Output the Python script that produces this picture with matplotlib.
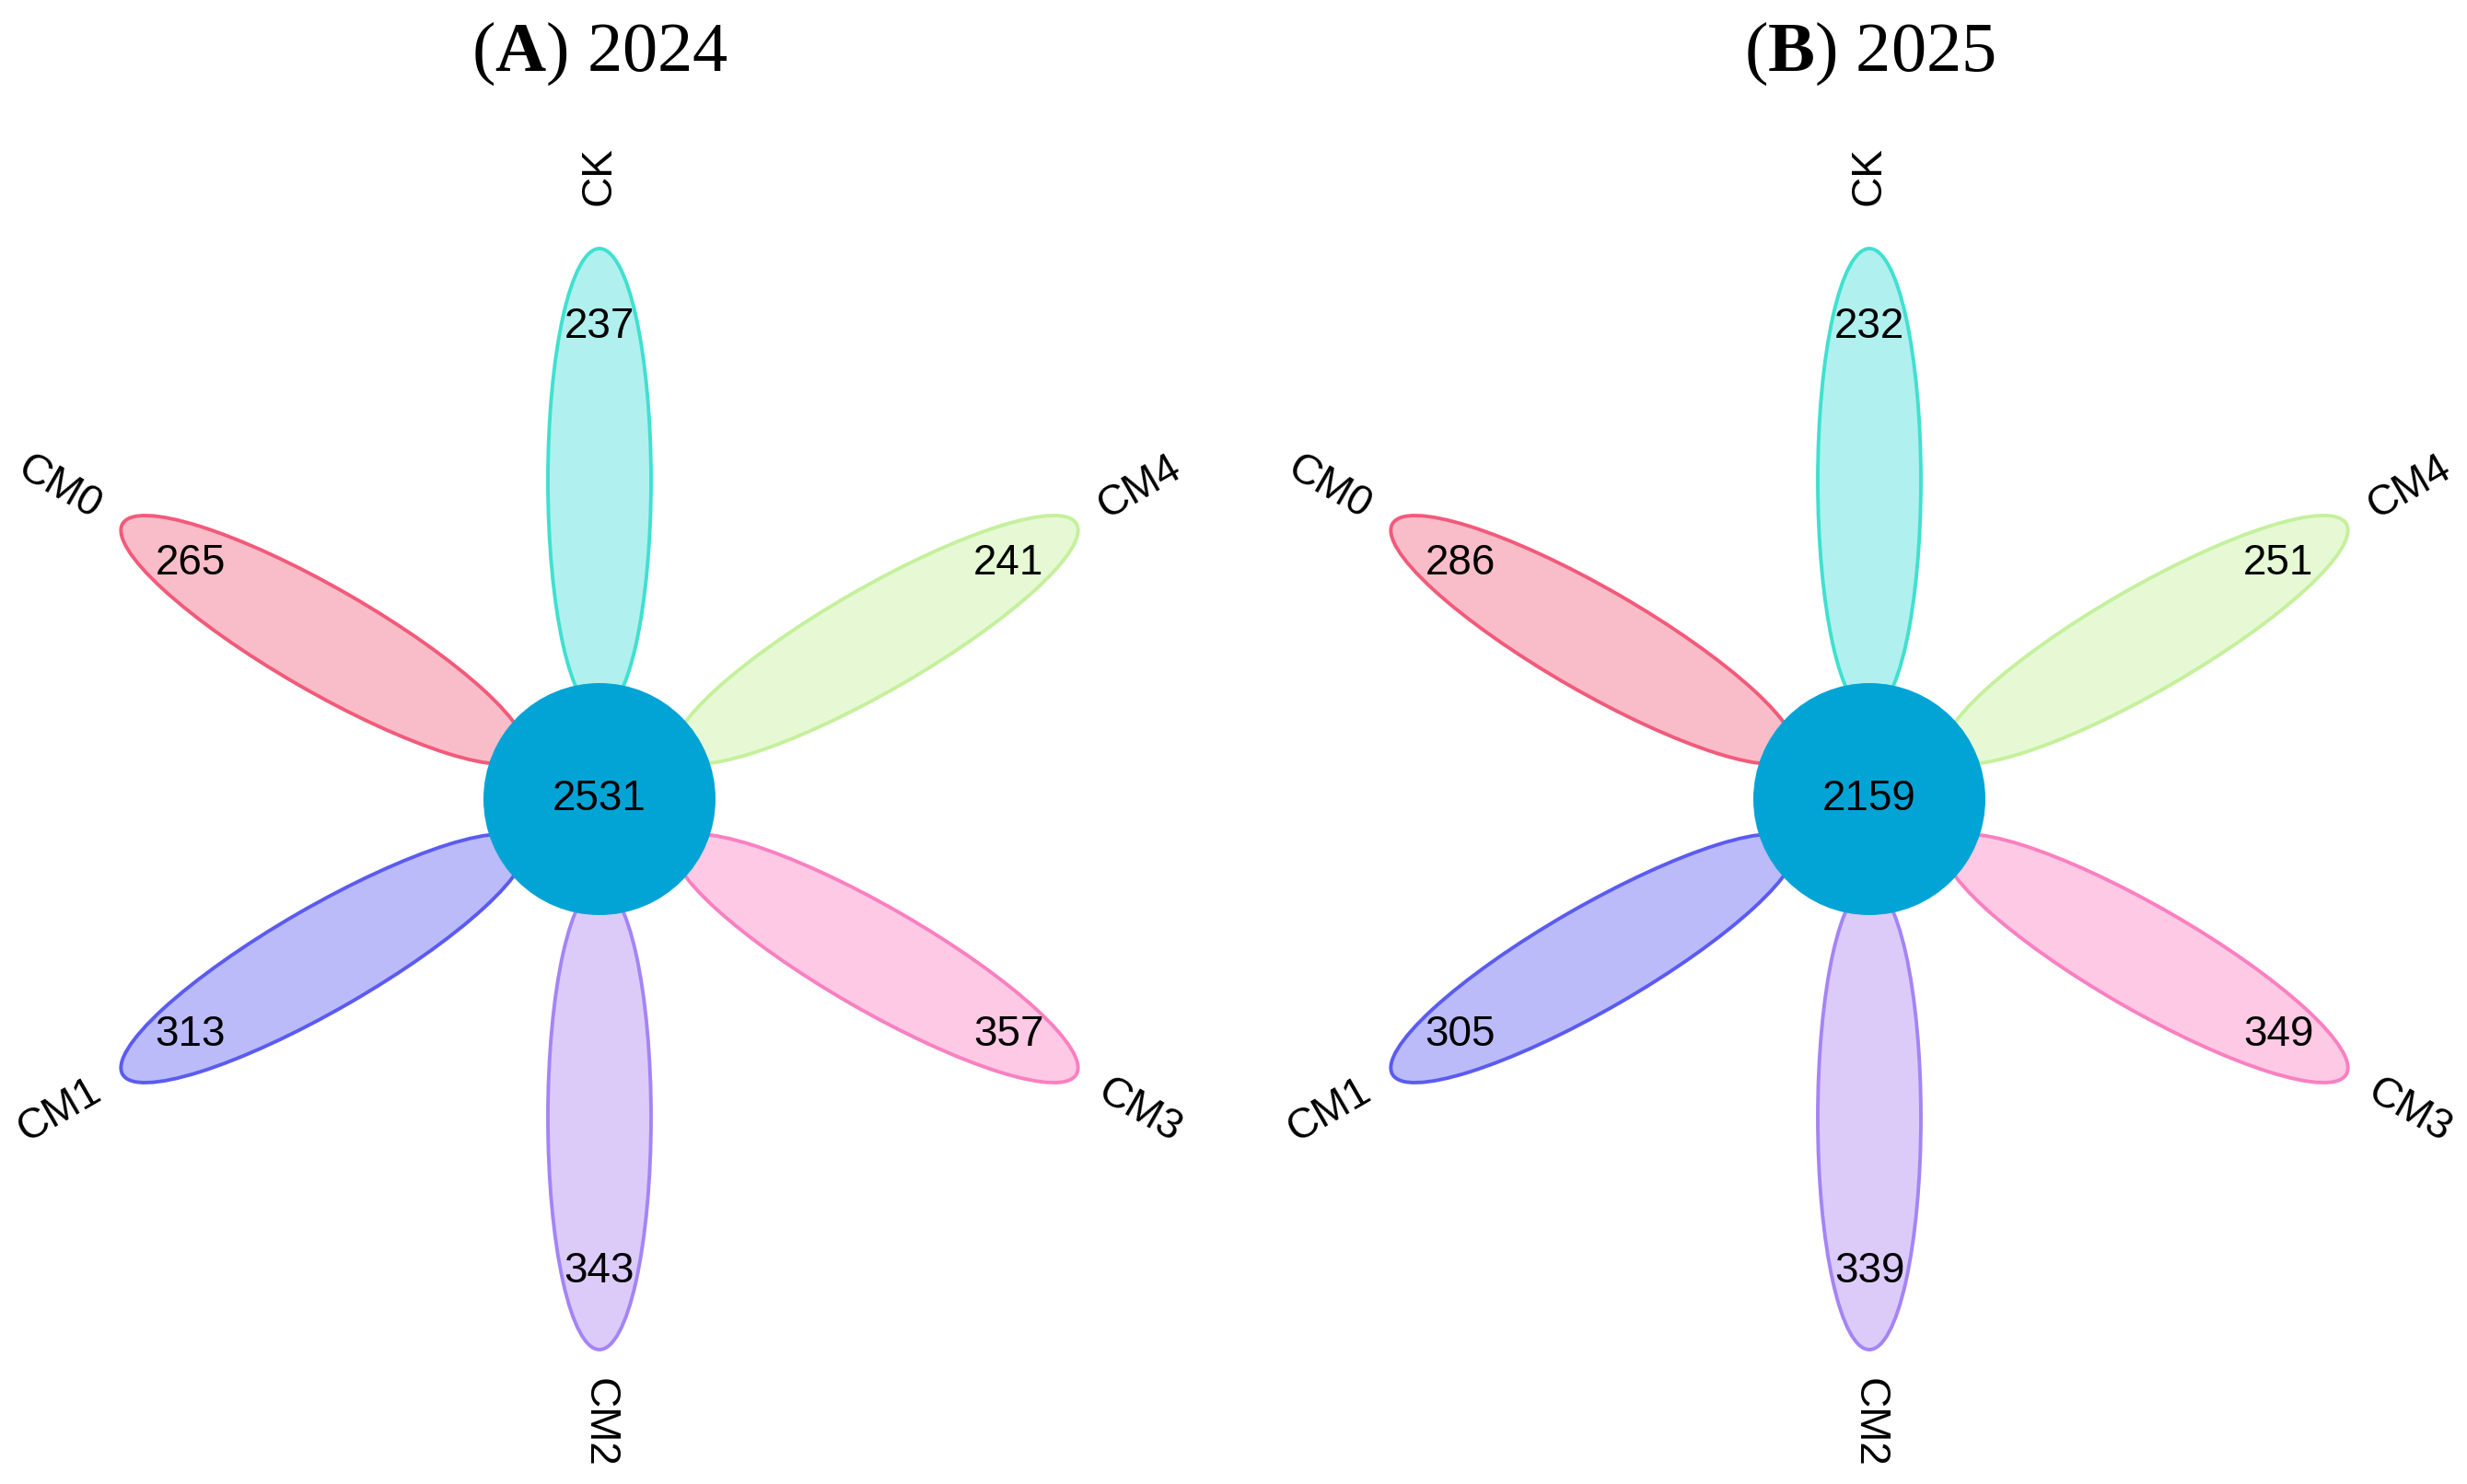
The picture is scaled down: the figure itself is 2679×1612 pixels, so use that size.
import numpy as np
import matplotlib.pyplot as plt
from matplotlib.patches import Ellipse, Circle

plt.rcParams['mathtext.fontset'] = 'custom'
plt.rcParams['mathtext.rm'] = 'Liberation Serif'
plt.rcParams['mathtext.bf'] = 'Liberation Serif:bold'

# Data
groups = ["CK", "CM4", "CM3", "CM2", "CM1", "CM0"]
unique_2024 = [237, 241, 357, 343, 313, 265]
unique_2025 = [232, 251, 349, 339, 305, 286]
core_2024 = 2531
core_2025 = 2159
panel_titles = [r"($\mathbf{A}$) 2024", r"($\mathbf{B}$) 2025"]

# Petal colours (fill / border)
fills = ["#B0F0EE", "#E6F9D4", "#FDC9E4", "#DCCBF9", "#BBBBFA", "#F9BDC9"]
edges = ["#40E0D0", "#C5F09C", "#FA7FC1", "#A484F5", "#5B5BF2", "#F25A7A"]
core_col = "#02A4D6"

W, H = 2679, 1612
fig = plt.figure(figsize=(W / 200, H / 200), dpi=200)
ax = fig.add_axes([0, 0, 1, 1])
ax.set_xlim(0, W)
ax.set_ylim(0, H)
ax.axis("off")


def flower(cx, cy, counts, core, title):
    n = len(groups)
    for i in range(n):
        ang = 90 - 360 / n * i
        rad = np.deg2rad(ang)
        ux, uy = np.cos(rad), np.sin(rad)
        e = Ellipse((cx + 346 * ux, cy + 346 * uy), width=2 * 252, height=2 * 56,
                    angle=ang, facecolor=fills[i], edgecolor=edges[i], lw=1.4, zorder=1)
        ax.add_patch(e)
        ax.text(cx + 513 * ux, cy + 513 * uy, str(counts[i]), ha="center", va="center",
                fontsize=16.5, family="Liberation Sans", zorder=3)
        rot = ang if -90 <= ang <= 90 else ang - 180
        ax.text(cx + 677 * ux, cy + 677 * uy, groups[i], ha="center", va="center",
                rotation=rot, rotation_mode="anchor", fontsize=16.5,
                family="Liberation Sans", zorder=3)
    ax.add_patch(Circle((cx, cy), 126, facecolor=core_col, edgecolor="none", zorder=2))
    ax.text(cx, cy, str(core), ha="center", va="center", fontsize=16.5,
            family="Liberation Sans", zorder=3)
    ax.text(cx, H - 77, title, ha="center", va="baseline", fontsize=27.5,
            family="Liberation Serif")


flower(651, H - 868, unique_2024, core_2024, panel_titles[0])
flower(2030, H - 868, unique_2025, core_2025, panel_titles[1])

fig.savefig("out.png", dpi=200, facecolor="white")
